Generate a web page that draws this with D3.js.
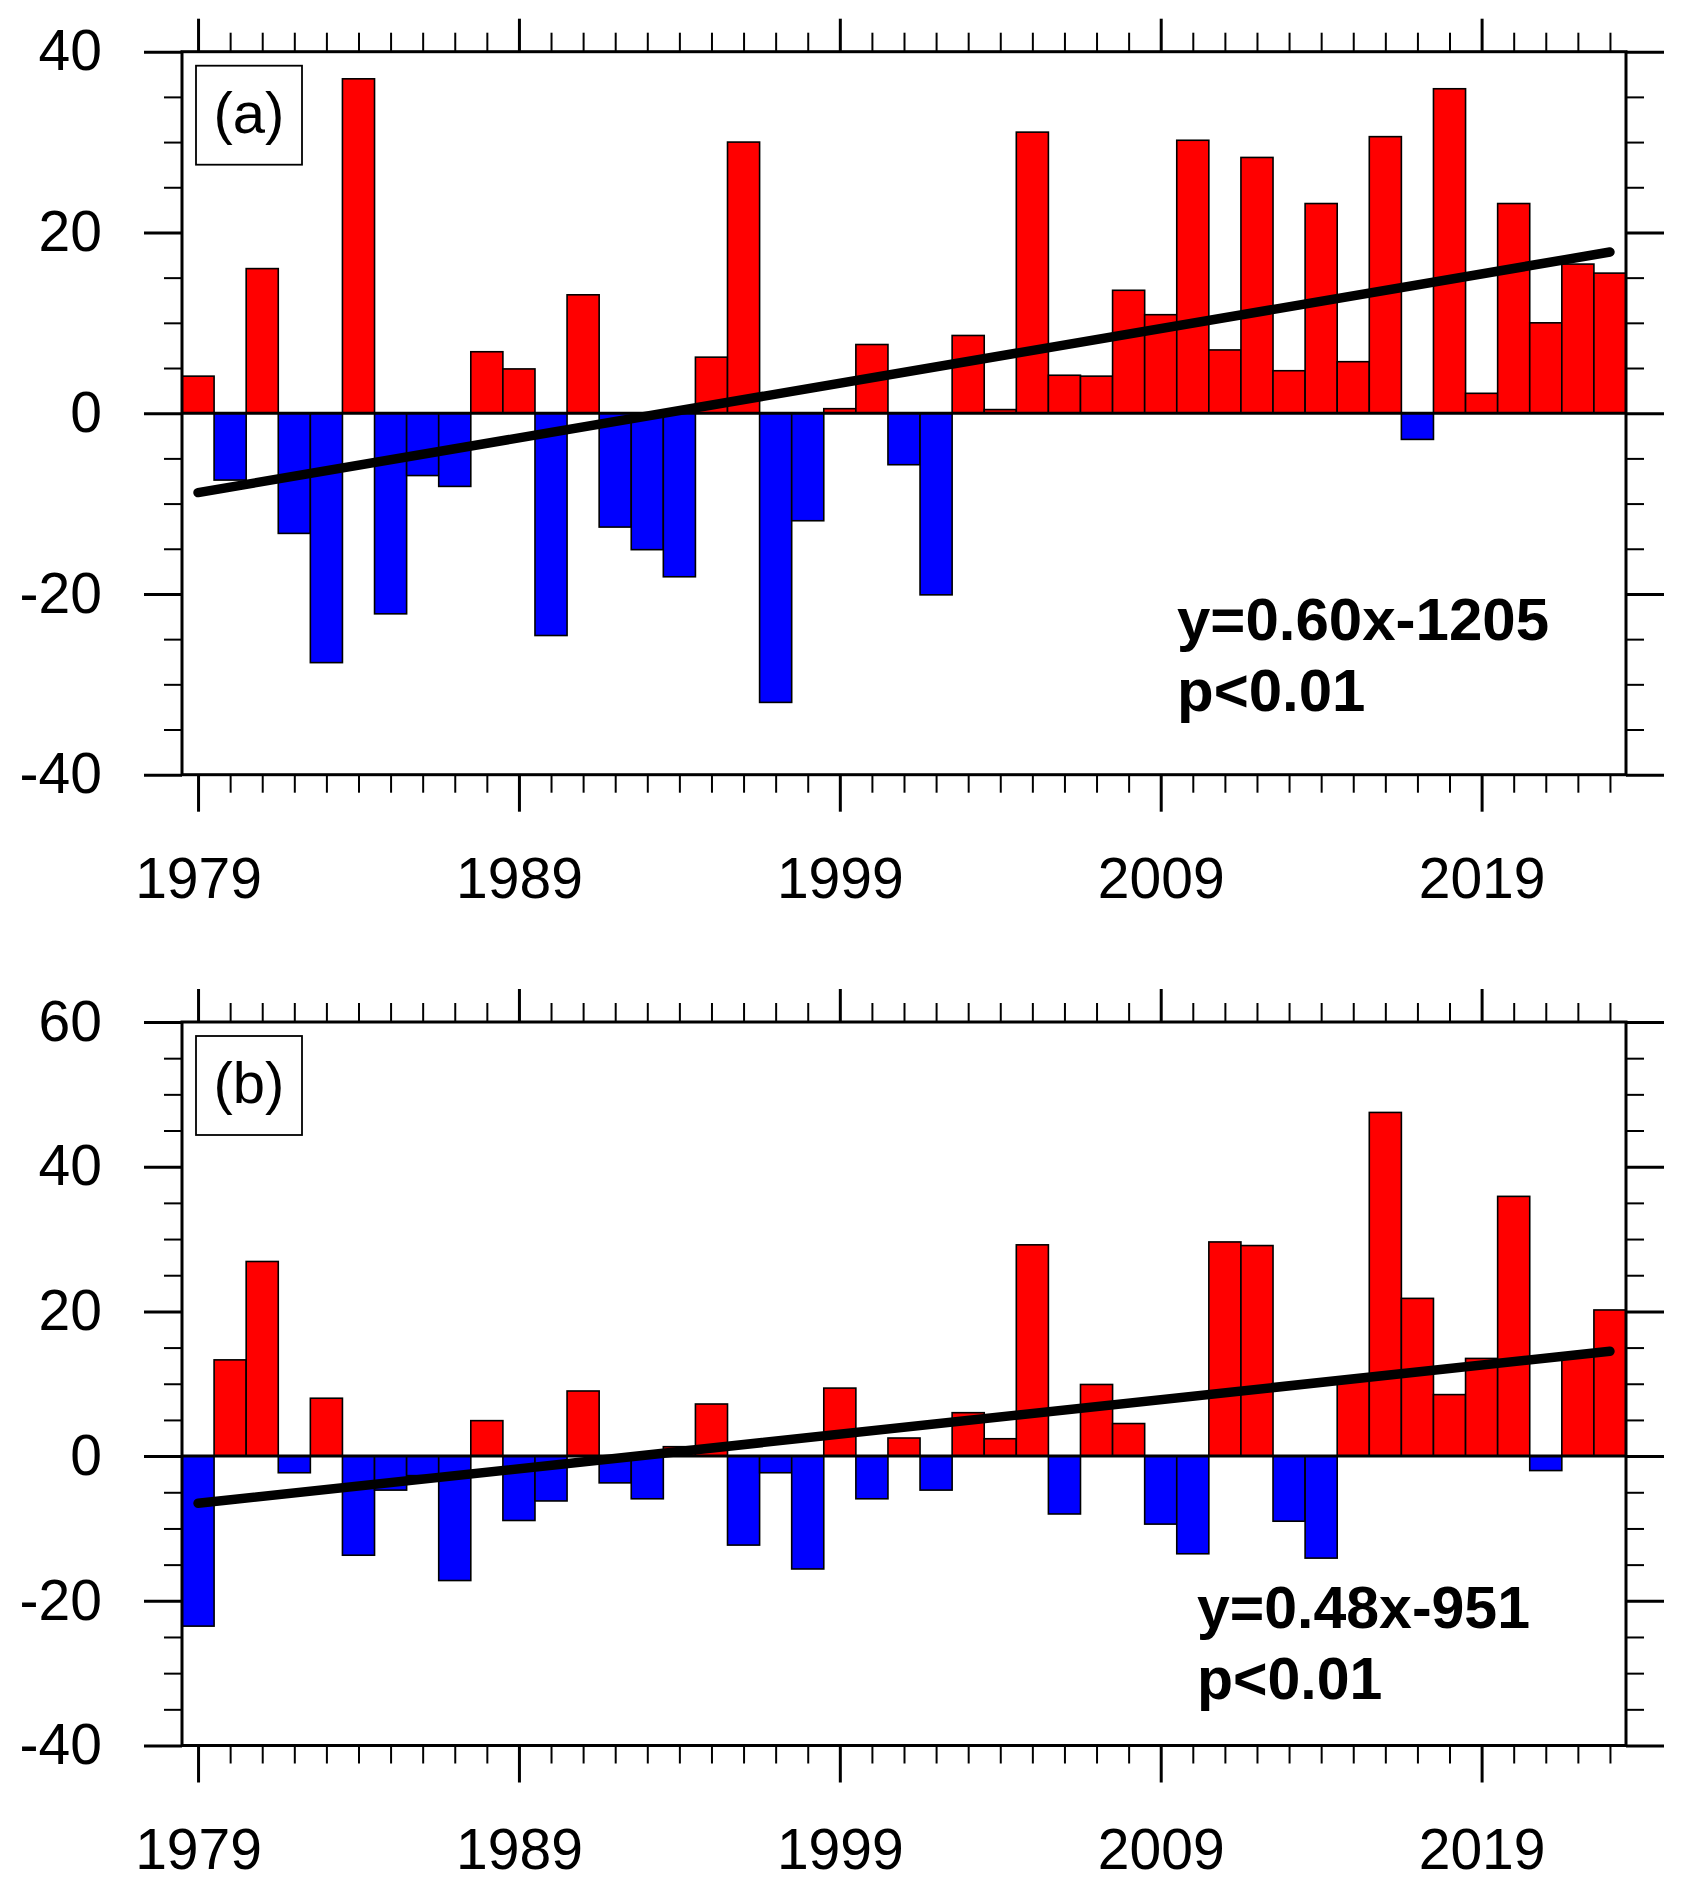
<!DOCTYPE html>
<html>
<head>
<meta charset="utf-8">
<script src="https://cdn.jsdelivr.net/npm/d3@7"></script>
<style>
  html, body { margin: 0; padding: 0; background: #fff; }
  svg { display: block; font-family: "Liberation Sans", Arial, Helvetica, sans-serif; }
</style>
</head>
<body>
<svg id="chart" width="1688" height="1897"></svg>
<script>
// data, one value per year 1979-2023
var years = d3.range(1979, 2024);

var valuesA = [4.1, -7.4, 16.0, -13.3, -27.6, 37.0, -22.2, -6.9, -8.1, 6.8,
               4.9, -24.6, 13.1, -12.6, -15.1, -18.1, 6.2, 30.0, -32.0, -11.9,
               0.5, 7.6, -5.7, -20.1, 8.6, 0.4, 31.1, 4.2, 4.1, 13.6,
               10.9, 30.2, 7.0, 28.3, 4.7, 23.2, 5.7, 30.6, -2.9, 35.9,
               2.2, 23.2, 10.0, 16.5, 15.5];

var valuesB = [-23.5, 13.3, 26.9, -2.3, 8.0, -13.7, -4.7, -2.7, -17.2, 4.9,
               -8.9, -6.2, 9.0, -3.7, -5.9, 1.3, 7.2, -12.3, -2.3, -15.6,
               9.4, -5.9, 2.5, -4.7, 6.0, 2.4, 29.2, -8.0, 9.9, 4.5,
               -9.4, -13.5, 29.6, 29.1, -9.0, -14.1, 10.4, 47.5, 21.8, 8.5,
               13.5, 35.9, -2.0, 13.8, 20.2];

var yearTicks = [1979, 1989, 1999, 2009, 2019];
var yTicksA = [-40, -20, 0, 20, 40];
var yTicksB = [-40, -20, 0, 20, 40, 60];
var labelA = '(a)', labelB = '(b)';
var fitTextA = ['y=0.60x-1205', 'p<0.01'];
var fitTextB = ['y=0.48x-951', 'p<0.01'];

var svg = d3.select('#chart'),
    left = 182,
    right = 1626;

var xScale = d3.scaleLinear()
    .domain([1978.5, 2023.5])
    .range([left, right]);

// least squares fit of value on year
var fitLine = function(xs, ys) {
    var mx = d3.mean(xs), my = d3.mean(ys),
        sxy = d3.sum(xs, function(d, i) { return (d - mx) * (ys[i] - my); }),
        sxx = d3.sum(xs, function(d) { return (d - mx) * (d - mx); }),
        slope = sxy / sxx;
    return function(x) { return my + slope * (x - mx); };
};

var drawPanel = function(opts) {
    var g = svg.append('g'),
        yScale = d3.scaleLinear()
            .domain(opts.domain)
            .range([opts.bottom, opts.top]),
        minorY = d3.range(opts.domain[0], opts.domain[1] + 0.1, 5),
        data = years.map(function(d, i) { return {year: d, value: opts.values[i]}; });

    // bars
    g.append('g').selectAll('rect').data(data).enter()
      .append('rect')
        .attr('x', function(d) { return xScale(d.year - 0.5); })
        .attr('width', function(d) { return xScale(d.year + 0.5) - xScale(d.year - 0.5); })
        .attr('y', function(d) { return yScale(Math.max(0, d.value)); })
        .attr('height', function(d) { return Math.abs(yScale(d.value) - yScale(0)); })
        .attr('fill', function(d) { return d.value >= 0 ? '#ff0000' : '#0000ff'; })
        .attr('stroke', '#000')
        .attr('stroke-width', 1.6);

    // zero reference line
    g.append('line')
        .attr('x1', left).attr('x2', right)
        .attr('y1', yScale(0)).attr('y2', yScale(0))
        .attr('stroke', '#000')
        .attr('stroke-width', 3);

    // trend line
    var fit = fitLine(years, opts.values);
    g.append('path')
        .datum([years[0], years[years.length - 1]])
        .attr('d', d3.line()
            .x(function(d) { return xScale(d); })
            .y(function(d) { return yScale(fit(d)); }))
        .attr('fill', 'none')
        .attr('stroke', '#000')
        .attr('stroke-width', 9.5)
        .attr('stroke-linecap', 'round');

    // frame
    g.append('rect')
        .attr('x', left).attr('y', opts.top)
        .attr('width', right - left).attr('height', opts.bottom - opts.top)
        .attr('fill', 'none')
        .attr('stroke', '#000')
        .attr('stroke-width', 3);

    // axes: major and minor ticks on all four sides, pointing outward
    var addAxis = function(axis, transform, values, size, width, labels) {
        var a = g.append('g')
            .attr('transform', transform)
            .call(axis.tickValues(values).tickSize(size).tickSizeOuter(0)
                .tickPadding(labels ? labels : 0)
                .tickFormat(labels ? function(d) { return String(d); } : ''));
        a.select('.domain').remove();
        a.selectAll('line').attr('stroke-width', width);
        a.selectAll('text')
            .attr('fill', '#000')
            .style('font-size', '57px');
        return a;
    };

    var minorYears = years.filter(function(d) { return yearTicks.indexOf(d) < 0; }),
        minorVals = minorY.filter(function(d) { return opts.ticks.indexOf(d) < 0; });

    addAxis(d3.axisLeft(yScale), 'translate(' + left + ',0)', minorVals, 18, 2);
    addAxis(d3.axisLeft(yScale), 'translate(' + left + ',0)', opts.ticks, 38, 3, 42);
    addAxis(d3.axisRight(yScale), 'translate(' + right + ',0)', minorVals, 18, 2);
    addAxis(d3.axisRight(yScale), 'translate(' + right + ',0)', opts.ticks, 38, 3);
    addAxis(d3.axisTop(xScale), 'translate(0,' + opts.top + ')', minorYears, 19, 2);
    addAxis(d3.axisTop(xScale), 'translate(0,' + opts.top + ')', yearTicks, 33, 3);
    addAxis(d3.axisBottom(xScale), 'translate(0,' + opts.bottom + ')', minorYears, 18, 2);
    addAxis(d3.axisBottom(xScale), 'translate(0,' + opts.bottom + ')', yearTicks, 37, 3, 46);

    // panel label box
    g.append('rect')
        .attr('x', 196).attr('y', opts.top + 14)
        .attr('width', 106).attr('height', 99)
        .attr('fill', '#fff')
        .attr('stroke', '#000')
        .attr('stroke-width', 1.8);
    g.append('text')
        .attr('x', 249).attr('y', opts.top + 81)
        .attr('text-anchor', 'middle')
        .style('font-size', '58px')
        .text(opts.label);

    // regression text
    g.selectAll('.fit').data(opts.fitText).enter()
      .append('text')
        .classed('fit', true)
        .attr('x', opts.textX)
        .attr('y', function(d, i) { return opts.textY + i * 71; })
        .style('font-size', opts.textSize + 'px')
        .style('font-weight', 'bold')
        .text(function(d) { return d; });
};

drawPanel({
    values: valuesA, domain: [-40, 40], ticks: yTicksA,
    top: 51.7, bottom: 774.7, label: labelA,
    fitText: fitTextA, textX: 1177, textY: 640, textSize: 60
});

drawPanel({
    values: valuesB, domain: [-40, 60], ticks: yTicksB,
    top: 1022, bottom: 1745.5, label: labelB,
    fitText: fitTextB, textX: 1197, textY: 1628, textSize: 59
});
</script>
</body>
</html>
